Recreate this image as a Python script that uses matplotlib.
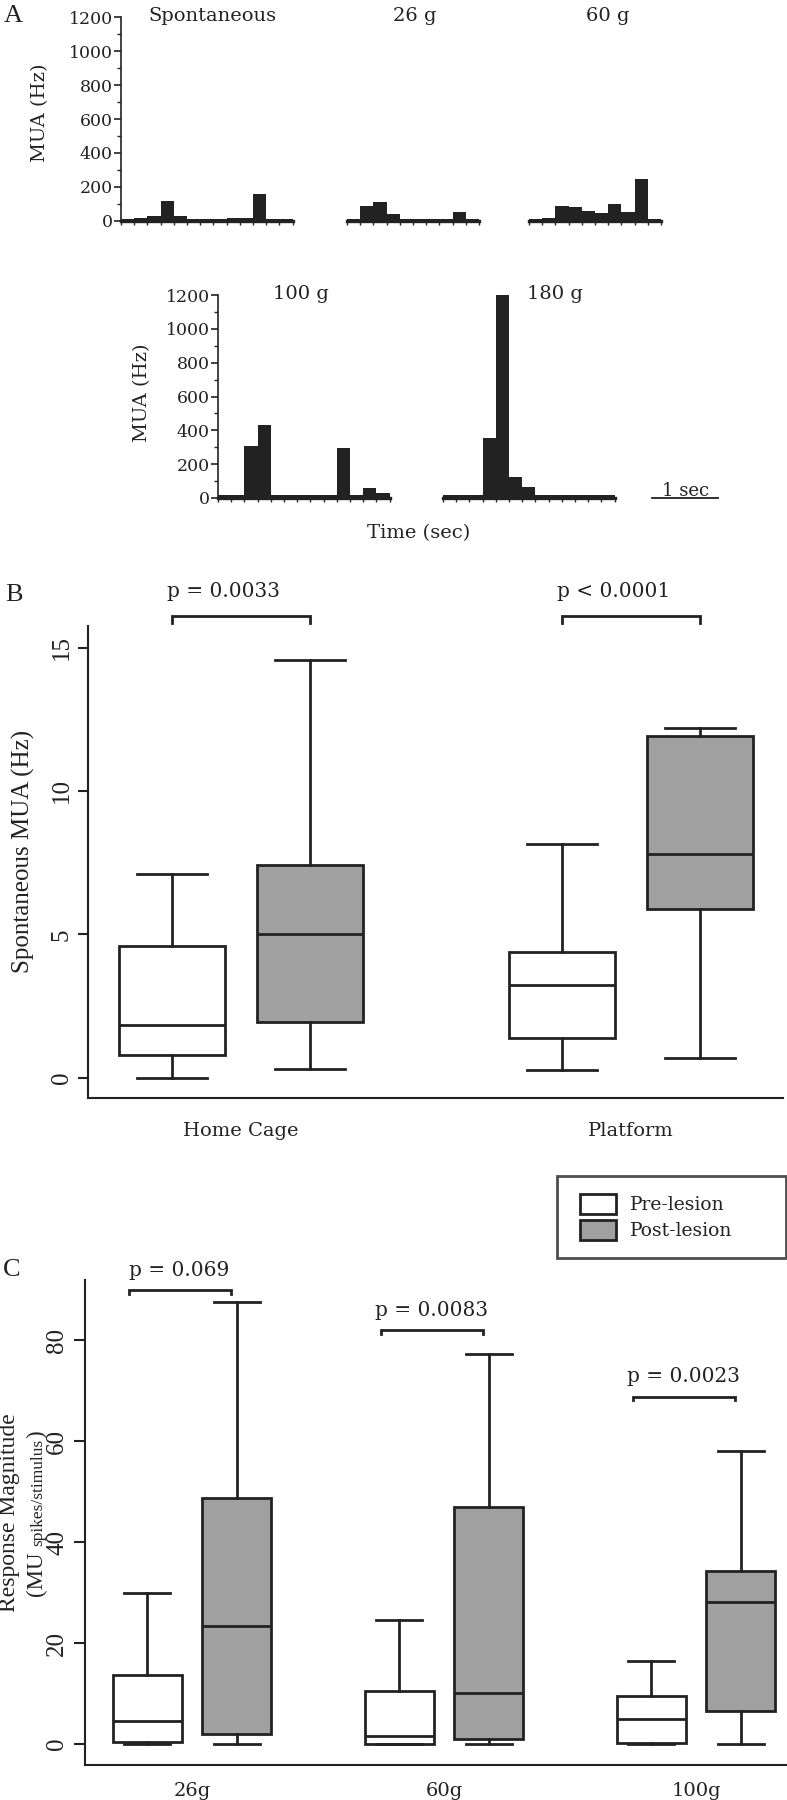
import numpy as np
import matplotlib
matplotlib.use("Agg")
import matplotlib.pyplot as plt
from matplotlib.patches import Patch
from matplotlib.legend_handler import HandlerPatch
from matplotlib.ticker import MultipleLocator

# ---------------- data ----------------
BIN_S = 0.2                      # histogram bin width (s)
hist_titles = ["Spontaneous", "26 g", "60 g", "100 g", "180 g"]
mua_spont = [10, 18, 27, 118, 27, 8, 8, 8, 18, 18, 157, 10, 10]
mua_26g = [10, 87, 108, 39, 10, 10, 10, 10, 49, 10]
mua_60g = [10, 15, 89, 79, 59, 45, 98, 49, 248, 10]
mua_100g = [20, 20, 305, 432, 20, 20, 20, 20, 20, 295, 20, 62, 32]
mua_180g = [15, 15, 15, 355, 1222, 124, 65, 15, 15, 15, 15, 15, 15]
mua_ticks = [0, 200, 400, 600, 800, 1000, 1200]
scale_bar_s = 1.0

# box stats: [whisker low, Q1, median, Q3, whisker high]
spont_groups = ["Home Cage", "Platform"]
spont_pre = [[0.0, 0.79, 1.84, 4.59, 7.10],
             [0.28, 1.40, 3.25, 4.40, 8.16]]
spont_post = [[0.31, 1.95, 5.03, 7.41, 14.58],
              [0.71, 5.90, 7.81, 11.91, 12.19]]
spont_p = ["p = 0.0033", "p < 0.0001"]
spont_ticks = [0, 5, 10, 15]

resp_groups = ["26g", "60g", "100g"]
resp_pre = [[0.0, 0.3, 4.6, 13.7, 29.9],
            [0.0, 0.0, 1.6, 10.5, 24.5],
            [0.0, 0.2, 5.0, 9.6, 16.4]]
resp_post = [[0.0, 2.0, 23.3, 48.8, 87.5],
             [0.0, 1.0, 10.1, 47.0, 77.3],
             [0.0, 6.5, 28.1, 34.2, 58.0]]
resp_p = ["p = 0.069", "p = 0.0083", "p = 0.0023"]
resp_bracket_y = [89.9, 82.0, 68.8]
resp_ticks = [0, 20, 40, 60, 80]
legend_labels = ["Pre-lesion", "Post-lesion"]

# ---------------- style ----------------
W, H, DPI = 787, 1800, 100
INK = "#222222"
GRAY = "#a0a0a0"
SG = "DejaVu Serif"       # Georgia-like
ST = "Liberation Serif"   # Times-like
plt.rcParams["font.family"] = SG

fig = plt.figure(figsize=(W / DPI, H / DPI), dpi=DPI)
renderer = fig.canvas.get_renderer()


def rect(x0, y0, x1, y1):
    return [x0 / W, 1 - y1 / H, (x1 - x0) / W, (y1 - y0) / H]


def fxy(x, y):
    return (x / W, 1 - y / H)


PX_PER_S = 66.0


def hist_axes(x0, ytop, ybot, values, title, title_xy, show_y, ylab_xy=None):
    n = len(values)
    ax = fig.add_axes(rect(x0, ytop, x0 + n * BIN_S * PX_PER_S, ybot))
    edges = np.arange(n) * BIN_S
    ax.bar(edges, values, width=BIN_S, align="edge", color=INK, linewidth=0)
    ax.set_xlim(0, n * BIN_S)
    ax.set_ylim(0, 1200)
    for s in ("top", "right"):
        ax.spines[s].set_visible(False)
    ax.spines["bottom"].set_linewidth(2.4)
    ax.spines["bottom"].set_color(INK)
    ax.set_xticks(np.arange(n + 1) * BIN_S)
    ax.tick_params(axis="x", direction="out", length=3, width=1, color=INK,
                   labelbottom=False)
    if show_y:
        ax.spines["left"].set_linewidth(1.2)
        ax.spines["left"].set_color(INK)
        ax.set_yticks(mua_ticks)
        ax.yaxis.set_minor_locator(MultipleLocator(100))
        ax.tick_params(axis="y", which="major", length=5, width=1.2, pad=1,
                       labelsize=12.5, color=INK, labelcolor=INK)
        ax.tick_params(axis="y", which="minor", length=3, width=1, color=INK)
        fig.text(*fxy(*ylab_xy), "MUA (Hz)", rotation=90, ha="center",
                 va="center", fontsize=14, color=INK)
    else:
        ax.spines["left"].set_visible(False)
        ax.set_yticks([])
    fig.text(*fxy(*title_xy), title, ha="center", va="center", fontsize=14,
             color=INK)
    return ax


# ---------------- panel A ----------------
hist_axes(121, 17.3, 220.7, mua_spont, hist_titles[0], (212, 16), True, (40, 113))
hist_axes(347, 17.3, 220.7, mua_26g, hist_titles[1], (415, 16), False)
hist_axes(529, 17.3, 220.7, mua_60g, hist_titles[2], (608, 16), False)
hist_axes(218, 295, 498, mua_100g, hist_titles[3], (301, 294), True, (142, 393))
ax180 = hist_axes(443, 295, 498, mua_180g, hist_titles[4], (555, 294), False)

t0 = len(mua_180g) * BIN_S + 0.57
ax180.plot([t0, t0 + scale_bar_s], [0, 0], color=INK, lw=1.3, clip_on=False)
ax180.text(t0 + scale_bar_s / 2, 12, "1 sec", ha="center", va="baseline",
           fontsize=13, color=INK)
fig.text(*fxy(419, 533), "Time (sec)", ha="center", va="center", fontsize=14,
         color=INK)
fig.text(*fxy(13, 16), "A", ha="center", va="center", fontsize=19,
         family=ST, color=INK)


# ---------------- box helpers ----------------
def stats(s):
    return dict(whislo=s[0], q1=s[1], med=s[2], q3=s[3], whishi=s[4], fliers=[])


def draw_boxes(ax, centers, data, offset, width, face, lw):
    ax.bxp([stats(s) for s in data], positions=centers + offset, widths=width,
           capwidths=0.66 * width, patch_artist=True, showfliers=False,
           boxprops=dict(facecolor=face, edgecolor=INK, linewidth=lw),
           whiskerprops=dict(color=INK, linewidth=lw),
           capprops=dict(color=INK, linewidth=lw),
           medianprops=dict(color=INK, linewidth=lw),
           manage_ticks=False)


def style_axes(ax, ticks):
    for s in ("top", "right"):
        ax.spines[s].set_visible(False)
    for s in ("left", "bottom"):
        ax.spines[s].set_linewidth(1.5)
        ax.spines[s].set_color(INK)
    ax.set_yticks(ticks)
    ax.tick_params(axis="y", length=7, width=1.5, color=INK, labelsize=18,
                   labelrotation=90, pad=4, labelcolor=INK)
    for lab in ax.get_yticklabels():
        lab.set_fontfamily(ST)
        lab.set_verticalalignment("center")
    ax.tick_params(axis="x", length=0, labelsize=14, labelcolor=INK)


def bracket(ax, x0, x1, y, d, label, tx, ty):
    ax.plot([x0, x0, x1, x1], [y - d, y, y, y - d], color=INK, lw=2,
            clip_on=False, solid_joinstyle="miter")
    ax.text(tx, ty, label, ha="center", va="center", fontsize=14.5,
            color=INK, clip_on=False)


# ---------------- panel B ----------------
axB = fig.add_axes(rect(88, 626, 783, 1098))
cB = np.arange(len(spont_groups), dtype=float)
draw_boxes(axB, cB, spont_pre, -0.177, 0.27, "white", 2.0)
draw_boxes(axB, cB, spont_post, 0.177, 0.27, GRAY, 2.0)
axB.set_xlim(-0.392, 1.39)
axB.set_ylim(-0.7, 15.75)
style_axes(axB, spont_ticks)
axB.set_xticks(cB)
axB.set_xticklabels(spont_groups)
axB.tick_params(axis="x", pad=17)
for g, p in zip(cB, spont_p):
    bracket(axB, g - 0.177, g + 0.177, 16.1, 0.25, p, g - 0.045, 16.95)
fig.text(*fxy(23, 851), "Spontaneous MUA (Hz)", rotation=90, ha="center",
         va="center", fontsize=18, family=ST, color=INK)
fig.text(*fxy(14, 595), "B", ha="center", va="center", fontsize=19,
         family=ST, color=INK)

# ---------------- panel C ----------------
axC = fig.add_axes(rect(85, 1280, 787, 1765))
cC = np.arange(len(resp_groups), dtype=float)
draw_boxes(axC, cC, resp_pre, -0.178, 0.274, "white", 2.0)
draw_boxes(axC, cC, resp_post, 0.178, 0.274, GRAY, 2.0)
axC.set_xlim(-0.425, 2.361)
axC.set_ylim(-4.16, 91.9)
style_axes(axC, resp_ticks)
axC.set_xticks(cC)
axC.set_xticklabels(resp_groups)
axC.tick_params(axis="x", pad=12)
axC.tick_params(axis="y", length=8, pad=4)
for g, p, by in zip(cC, resp_p, resp_bracket_y):
    bracket(axC, g - 0.25, g + 0.155, by, 0.7, p, g - 0.05, by + 3.9)
fig.text(*fxy(10, 1513), "Response Magnitude", rotation=90, ha="center",
         va="center", fontsize=17, family=ST, color=INK)

# second y-label line: "(MU" normal size, "spikes/stimulus" smaller, ")" normal
parts = [("(MU", 16.5, 5), ("spikes/stimulus", 12.5, 1), (")", 16.5, 0)]
ptexts = []
for s, fs, gap in parts:
    t = fig.text(0, 0, s, rotation=90, rotation_mode="anchor", ha="left",
                 va="baseline", fontsize=fs, family=ST, color=INK)
    ptexts.append((t, gap))
lens = [t.get_window_extent(renderer).height for t, _ in ptexts]
total = sum(lens) + sum(g for _, g in ptexts)
y_cur = 1513 + total / 2          # start of the rotated line, px from top
for (t, gap), ln in zip(ptexts, lens):
    t.set_position(fxy(42, y_cur))
    y_cur -= ln + gap

fig.text(*fxy(12, 1270), "C", ha="center", va="center", fontsize=19,
         family=ST, color=INK)

# ---------------- legend ----------------
handles = [Patch(facecolor="white", edgecolor=INK, linewidth=2),
           Patch(facecolor=GRAY, edgecolor=INK, linewidth=2)]
leg = fig.legend(handles, legend_labels, loc="upper left",
                 bbox_to_anchor=(557 / W, 1 - 1268 / H, 229 / W, 92 / H),
                 mode="expand", borderaxespad=0, frameon=True, fancybox=False,
                 fontsize=13.5, handlelength=2.2, handleheight=1.3,
                 labelspacing=0.3, handletextpad=0.75, borderpad=0.95,
                 handler_map={Patch: HandlerPatch(xpad=0.3)})
leg.get_frame().set_linewidth(2)
leg.get_frame().set_edgecolor(INK)
for t in leg.get_texts():
    t.set_color(INK)

fig.savefig("out.png", dpi=DPI)
